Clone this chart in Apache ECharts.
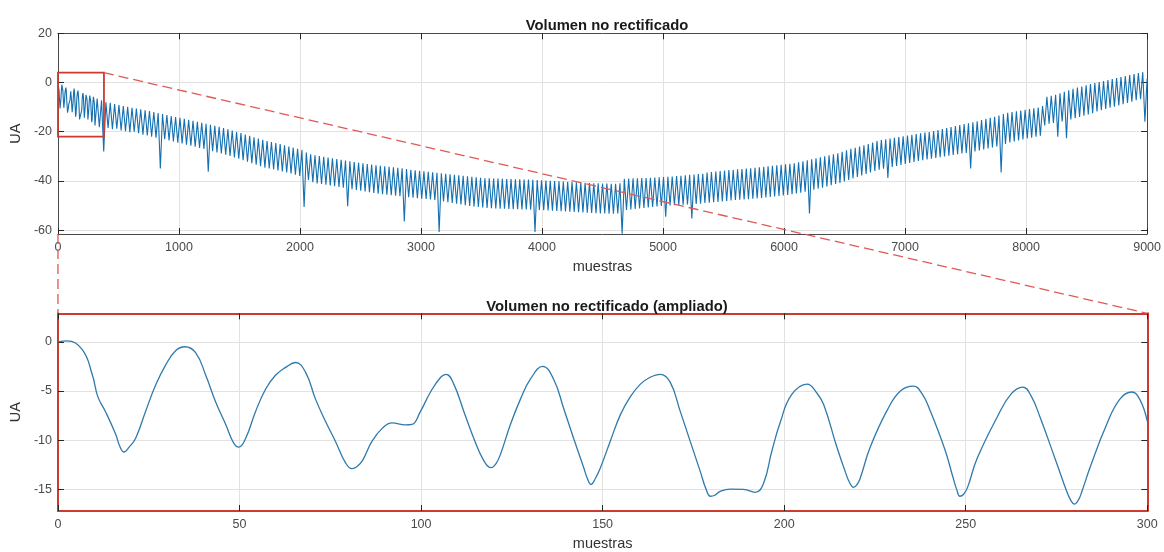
<!DOCTYPE html>
<html><head><meta charset="utf-8">
<script src="https://cdn.jsdelivr.net/npm/echarts@6/dist/echarts.min.js"></script>
<style>html,body{margin:0;padding:0;background:#fff}#c{width:1164px;height:552px}</style>
</head><body><div id="c"></div>
<script>
// ---- zoomed (detail) view: sample index and value ----
const detailSamples = [0,2.4,6.7,9.5,11,13.1,15.9,17,18.2,19.6,21.4,24.1,26.9,29.6,32.4,35,37.9,40.7,43.4,46.2,48.4,49.8,51.7,54.4,57.2,59.9,62.7,65.4,68.2,70.9,73.7,76.4,79.2,81,82.3,83.8,86.5,89.3,92,95.7,97.5,99.8,102.6,105.4,106.9,109,111.8,114.5,117.3,119.3,120.6,121.9,124.6,127.4,130.1,133.5,136.5,139.3,142,144.8,145.8,146.8,148,149.4,152.1,154.9,157.6,160.4,163.1,165.9,168.6,171.4,174.1,176.9,178.5,179.7,180.9,182.4,185.2,188.8,192,194.3,196.6,198.9,202,206.3,209,210.9,214.5,217,218,219.1,220.1,221,223.7,228.3,232,235.6,238,240.2,244.3,246.5,247.5,248.4,249.4,250.5,253.1,258.6,262.5,265.7,268,270.5,275.1,277.8,278.9,279.9,281,282,284.3,288.8,292.5,295.7,298,300];
const detailValues = [0.0,0.1,-0.8,-3.4,-5.6,-7.1,-9.4,-10.6,-11.2,-10.7,-9.8,-7.1,-4.4,-2.4,-0.9,-0.5,-1.1,-3.4,-6.1,-8.4,-10.3,-10.7,-9.8,-7.1,-4.8,-3.4,-2.6,-2.1,-3.1,-5.8,-8.1,-10.1,-12.3,-12.9,-12.7,-12.1,-10.1,-8.8,-8.25,-8.45,-8.4,-7.1,-5.1,-3.6,-3.3,-4.3,-7.1,-9.8,-12.1,-12.8,-12.4,-11.4,-8.4,-5.8,-3.8,-2.5,-3.8,-6.8,-9.8,-12.8,-13.9,-14.5,-13.9,-12.8,-10.1,-7.4,-5.6,-4.3,-3.6,-3.3,-4.1,-7.1,-10.1,-13.2,-15.0,-15.7,-15.6,-15.2,-14.97,-15.0,-15.3,-14.4,-11.1,-8.2,-5.4,-4.3,-5.2,-6.4,-10.7,-13.4,-14.3,-14.8,-14.5,-13.8,-10.7,-7.0,-5.0,-4.5,-5.3,-7.0,-11.0,-13.8,-15.0,-15.7,-15.5,-14.8,-11.9,-7.7,-5.3,-4.6,-5.5,-7.7,-12.4,-15.2,-16.1,-16.5,-16.1,-15.2,-12.7,-8.4,-5.8,-5.1,-5.9,-8.1];

// ---- full record (upper panel) after the first 300 samples: alternating trough/peak values ----
const overviewStart = 306;
const overviewStep = 18;
const overviewValues = [
-17.5,-6.5,-18.2,-7.2,-28.0,-8.0,-18.5,-8.3,-19.0,-8.8,-18.8,-9.2,-19.5,-9.6,-19.8,-9.9,-20.2,-10.3,-20.0,-10.6,
-20.6,-10.9,-21.2,-11.3,-21.5,-11.6,-22.0,-12.0,-22.4,-12.4,-35.0,-12.8,-23.1,-13.2,-23.6,-13.6,-24.0,-14.0,-24.5,-14.4,
-24.8,-14.8,-25.3,-15.2,-25.7,-15.6,-26.1,-16.0,-26.6,-16.4,-27.0,-16.8,-36.3,-17.2,-27.9,-17.6,-28.4,-18.0,-28.9,-18.5,
-29.4,-19.0,-29.9,-19.5,-30.5,-20.1,-31.0,-20.6,-31.6,-21.2,-32.2,-21.7,-32.8,-22.3,-33.4,-22.8,-34.0,-23.3,-34.6,-23.8,
-35.0,-24.2,-35.4,-24.6,-35.8,-25.0,-36.2,-25.5,-36.6,-26.0,-37.0,-26.5,-37.5,-27.0,-38.0,-27.5,-50.6,-28.5,-39.6,-29.2,
-40.5,-29.6,-41.0,-29.9,-41.3,-30.2,-41.6,-30.5,-41.9,-30.8,-42.2,-31.1,-42.5,-31.4,-42.8,-31.7,-50.3,-32.0,-43.4,-32.3,
-43.7,-32.6,-44.0,-32.9,-44.3,-33.2,-44.6,-33.4,-44.9,-33.7,-45.2,-33.9,-45.4,-34.1,-45.6,-34.3,-45.8,-34.5,-46.0,-34.7,
-46.2,-34.9,-56.5,-35.2,-46.6,-35.5,-46.8,-35.7,-47.0,-35.9,-47.2,-36.1,-47.4,-36.3,-47.6,-36.5,-47.8,-36.7,-60.8,-36.9,
-48.4,-37.1,-48.7,-37.3,-49.0,-37.5,-49.3,-37.7,-49.6,-37.9,-49.9,-38.1,-50.2,-38.3,-50.4,-38.5,-50.6,-38.7,-50.8,-38.9,
-51.0,-39.0,-51.1,-39.1,-51.2,-39.1,-51.3,-39.2,-51.3,-39.3,-51.4,-39.3,-51.5,-39.4,-51.5,-39.4,-51.6,-39.5,-51.6,-39.5,
-51.7,-39.6,-60.8,-39.7,-51.8,-39.8,-51.9,-39.9,-52.0,-40.0,-52.1,-40.1,-52.2,-40.2,-52.3,-40.3,-52.4,-40.4,-52.5,-40.5,
-52.6,-40.6,-52.7,-40.7,-52.8,-40.8,-52.9,-40.9,-53.0,-41.0,-53.1,-41.0,-53.2,-41.1,-53.2,-41.1,-53.3,-41.2,-53.3,-41.2,
-53.2,-41.0,-61.5,-39.2,-51.8,-39.1,-51.6,-39.0,-51.4,-38.9,-51.2,-38.8,-51.0,-38.8,-50.8,-38.7,-50.6,-38.6,-50.4,-38.5,
-50.2,-38.4,-54.6,-38.3,-50.0,-38.2,-49.9,-38.0,-49.8,-37.9,-49.7,-37.7,-49.6,-37.5,-55.3,-37.4,-49.4,-37.2,-49.3,-37.1,
-49.0,-36.6,-48.9,-36.4,-48.7,-36.2,-48.6,-36.0,-48.4,-35.8,-48.2,-35.6,-48.0,-35.5,-47.8,-35.3,-47.7,-35.2,-47.6,-35.0,
-47.5,-34.9,-47.3,-34.7,-47.1,-34.5,-46.9,-34.3,-46.7,-34.1,-46.5,-33.9,-46.3,-33.7,-46.1,-33.5,-45.9,-33.3,-45.7,-33.1,
-45.4,-32.8,-45.1,-32.4,-44.8,-32.0,-44.4,-31.6,-53.3,-31.2,-43.6,-30.8,-43.2,-30.4,-42.8,-30.0,-42.3,-29.6,-41.8,-29.2,
-41.3,-28.8,-40.8,-28.2,-40.2,-27.6,-39.6,-27.0,-39.0,-26.5,-38.4,-26.0,-37.8,-25.5,-37.2,-25.0,-36.6,-24.4,-36.0,-23.8,
-35.5,-23.4,-35.1,-23.1,-38.8,-22.8,-34.3,-22.5,-33.9,-22.2,-33.5,-21.9,-33.1,-21.6,-32.7,-21.3,-32.3,-21.0,-31.9,-20.7,
-31.6,-20.4,-31.3,-20.1,-31.0,-19.7,-30.7,-19.3,-30.4,-18.9,-30.1,-18.5,-29.8,-18.1,-29.5,-17.7,-29.2,-17.3,-28.9,-16.9,
-28.6,-16.6,-35.0,-16.2,-28.0,-15.8,-27.6,-15.3,-27.2,-14.8,-26.8,-14.4,-26.4,-13.9,-26.0,-13.4,-36.6,-12.8,-25.0,-12.3,
-24.4,-12.0,-24.0,-11.7,-23.6,-11.4,-23.2,-11.1,-22.8,-10.8,-22.4,-10.5,-22.0,-10.2,-21.6,-9.6,-17.5,-5.8,-16.8,-5.4,
-16.5,-5.0,-22.0,-4.4,-15.8,-3.8,-22.7,-3.2,-15.0,-2.6,-14.5,-2.1,-14.0,-1.6,-13.5,-1.1,-13.0,-0.6,-12.5,-0.2,
-11.8,0.2,-11.3,0.6,-10.8,1.0,-10.3,1.4,-9.8,1.8,-9.3,2.2,-8.8,2.6,-8.3,3.0,-7.8,3.4,-7.2,3.8,
-6.8,4.2,-16.0,1.5
];

// ---- axes ----
const topXRange = [0, 9000];
const topXInterval = 1000;
const topYRange = [-61.6, 20];
const topYTicks = [-60, -40, -20, 0, 20];
const bottomXRange = [0, 300];
const bottomXInterval = 50;
const bottomYRange = [-17.2, 2.9];
const bottomYTicks = [-15, -10, -5, 0];
const zoomBoxX = [0, 380];
const zoomBoxY = [-22, 4];

const titles = ['Volumen no rectificado', 'Volumen no rectificado (ampliado)'];
const xName = 'muestras';
const yName = 'UA';

const font = "'Liberation Sans', Arial, Helvetica, sans-serif";
const frameGray = '#4a4a4a';
const frameRed = '#cc3b30';
const dashRed = '#de5a55';
const gridGray = '#e2e2e2';
const lineBlue = '#1470b0';
const labelColor = '#4a4a4a';

const topData = detailSamples.map((s, i) => [s, detailValues[i]])
  .concat(overviewValues.map((v, i) => [overviewStart + i * overviewStep, v]));
const bottomData = detailSamples.map((s, i) => [s, detailValues[i]]);

const tickStyle = { inside: true, length: 6, lineStyle: { color: '#262626', width: 1 } };
const labelStyle = { fontSize: 12.5, color: labelColor, fontFamily: font, formatter: v => String(v) };
const nameStyle = { fontSize: 14.5, color: '#333', fontFamily: font };

function xAxes(grid, range, interval, lineColor, lw) {
  return [
    { gridIndex: grid, type: 'value', min: range[0], max: range[1], interval: interval, position: 'bottom',
      name: xName, nameLocation: 'middle', nameGap: 25, nameTextStyle: nameStyle,
      axisLine: { onZero: false, lineStyle: { color: lineColor, width: lw } },
      axisTick: tickStyle, axisLabel: Object.assign({ margin: 7 }, labelStyle),
      splitLine: { show: true, lineStyle: { color: gridGray, width: 1 } } },
    { gridIndex: grid, type: 'value', min: range[0], max: range[1], interval: interval, position: 'top',
      axisLine: { onZero: false, lineStyle: { color: lineColor, width: lw } },
      axisTick: tickStyle, axisLabel: { show: false }, splitLine: { show: false } }
  ];
}
function yAxes(grid, range, ticks, lineColor, lw) {
  return [
    { gridIndex: grid, type: 'value', min: range[0], max: range[1], position: 'left',
      name: yName, nameLocation: 'middle', nameGap: 32, nameTextStyle: nameStyle,
      axisLine: { onZero: false, lineStyle: { color: lineColor, width: lw } },
      axisTick: Object.assign({ customValues: ticks }, tickStyle),
      axisLabel: Object.assign({ margin: 6, customValues: ticks }, labelStyle),
      splitLine: { show: true, lineStyle: { color: gridGray, width: 1 } } },
    { gridIndex: grid, type: 'value', min: range[0], max: range[1], position: 'right',
      axisLine: { onZero: false, lineStyle: { color: lineColor, width: lw } },
      axisTick: Object.assign({ customValues: ticks }, tickStyle),
      axisLabel: { show: false, customValues: ticks }, splitLine: { show: false } }
  ];
}

const chart = echarts.init(document.getElementById('c'), null, { renderer: 'canvas' });
chart.setOption({
  animation: false,
  backgroundColor: '#ffffff',
  textStyle: { fontFamily: font },
  title: [
    { text: titles[0], left: 602, top: 13, textAlign: 'center',
      textStyle: { fontSize: 14.8, fontWeight: 'bold', color: '#1a1a1a', fontFamily: font } },
    { text: titles[1], left: 602, top: 294, textAlign: 'center',
      textStyle: { fontSize: 14.8, fontWeight: 'bold', color: '#1a1a1a', fontFamily: font } }
  ],
  grid: [
    { left: 57.3, right: 16.7, top: 33.3, height: 200.7, containLabel: false },
    { left: 57.3, right: 16.7, top: 313.3, height: 200.7, containLabel: false }
  ],
  xAxis: xAxes(0, topXRange, topXInterval, frameGray, 1).concat(xAxes(1, bottomXRange, bottomXInterval, frameRed, 2)),
  yAxis: yAxes(0, topYRange, topYTicks, frameGray, 1).concat(yAxes(1, bottomYRange, bottomYTicks, frameRed, 2)),
  series: [
    { type: 'line', xAxisIndex: 0, yAxisIndex: 0, data: topData, showSymbol: false, symbol: 'none',
      lineStyle: { color: lineBlue, width: 1.1 }, silent: true, z: 3,
      markArea: { silent: true, z: 5,
        itemStyle: { color: 'rgba(0,0,0,0)', borderColor: frameRed, borderWidth: 1.8 },
        data: [[{ coord: [zoomBoxX[0], zoomBoxY[1]] }, { coord: [zoomBoxX[1], zoomBoxY[0]] }]] } },
    { type: 'line', xAxisIndex: 2, yAxisIndex: 2, data: bottomData, showSymbol: false, symbol: 'none',
      smooth: 0.45,
      lineStyle: { color: '#2f7aab', width: 1.3 }, silent: true }
  ]
});

const pA = chart.convertToPixel({ xAxisIndex: 0, yAxisIndex: 0 }, [zoomBoxX[1], zoomBoxY[1]]);
const pB = chart.convertToPixel({ xAxisIndex: 2, yAxisIndex: 2 }, [bottomXRange[1], bottomYRange[1]]);
const pC = chart.convertToPixel({ xAxisIndex: 0, yAxisIndex: 0 }, [zoomBoxX[0], topYRange[0]]);
const pD = chart.convertToPixel({ xAxisIndex: 2, yAxisIndex: 2 }, [bottomXRange[0], bottomYRange[1]]);
const dash = { stroke: dashRed, lineWidth: 1.3, lineDash: [10, 5] };
chart.setOption({
  graphic: [
    { type: 'line', z: 100, silent: true, shape: { x1: pA[0], y1: pA[1], x2: pB[0], y2: pB[1] }, style: dash },
    { type: 'line', z: 100, silent: true, shape: { x1: pC[0], y1: pC[1], x2: pD[0], y2: pD[1] }, style: dash }
  ]
});
</script>
</body></html>
